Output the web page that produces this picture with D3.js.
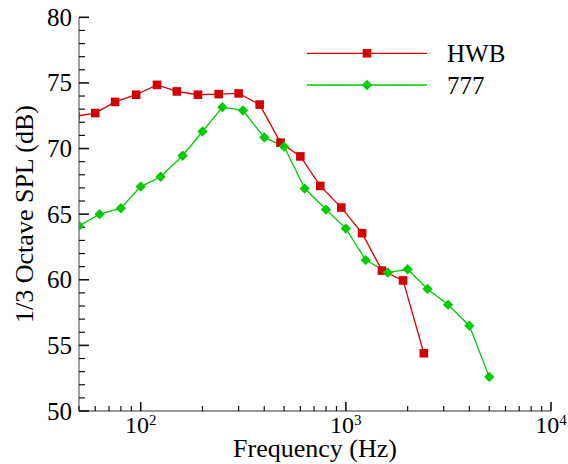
<!DOCTYPE html>
<html>
<head>
<meta charset="utf-8">
<script src="https://cdn.jsdelivr.net/npm/d3@7"></script>
<style>
  body { margin: 0; background: #fff; }
</style>
</head>
<body>
<svg id="chart" width="568" height="464"></svg>
<script>
// 1/3 octave band levels
const hwbFreq = [48, 60, 75, 95, 120, 150, 190, 240, 300, 380, 480, 600, 750, 950, 1200, 1500, 1900, 2400];
const hwbSpl  = [72.45, 72.7, 73.55, 74.1, 74.85, 74.35, 74.1, 74.15, 74.2, 73.35, 70.45, 69.4, 67.15, 65.5, 63.55, 60.7, 59.95, 54.4];

const b777Freq = [50, 63, 80, 100, 125, 160, 200, 250, 315, 400, 500, 630, 800, 1000, 1250, 1600, 2000, 2500, 3150, 4000, 5000];
const b777Spl  = [64.1, 65.0, 65.45, 67.1, 67.85, 69.45, 71.3, 73.15, 72.9, 70.85, 70.15, 66.95, 65.35, 63.9, 61.5, 60.55, 60.8, 59.3, 58.1, 56.5, 52.6];

const seriesNames = ["HWB", "777"];
const yTicks = [50, 55, 60, 65, 70, 75, 80];
const xMajor = [100, 1000, 10000];

const serif = "Liberation Serif";

const svg = d3.select("#chart");
const mLeft = 79, mRight = 551, mTop = 17.3, mBottom = 411;

const x = d3.scaleLog().domain([50, 10000]).range([mLeft, mRight]);
const y = d3.scaleLinear().domain([50, 80]).range([mBottom, mTop]);

const red = "#d20000", green = "#00cc00";

svg.append("defs").append("clipPath").attr("id", "plotclip")
  .append("rect").attr("x", mLeft).attr("y", mTop - 10)
  .attr("width", mRight - mLeft).attr("height", mBottom - mTop + 20);

// axes: spine gray, ticks inward
const axisG = svg.append("g");
axisG.append("line").attr("x1", mLeft).attr("x2", mLeft).attr("y1", mTop).attr("y2", mBottom)
  .attr("stroke", "#777").attr("stroke-width", 1.4);
axisG.append("line").attr("x1", mLeft).attr("x2", mRight).attr("y1", mBottom).attr("y2", mBottom)
  .attr("stroke", "#777").attr("stroke-width", 1.4);

// y ticks
d3.range(50, 81, 1).forEach(v => {
  let major = v % 5 === 0;
  axisG.append("line")
    .attr("x1", mLeft).attr("x2", mLeft + (major ? 10 : 6))
    .attr("y1", y(v)).attr("y2", y(v))
    .attr("stroke", "#111").attr("stroke-width", major ? 1.6 : 1.2);
});
yTicks.forEach(v => {
  axisG.append("text")
    .attr("x", mLeft - 7).attr("y", y(v) + 8.5)
    .attr("text-anchor", "end")
    .attr("font-family", serif)
    .attr("font-size", 25)
    .text(v);
});

// x ticks (log)
let minors = [];
[10, 100, 1000].forEach(dec => {
  for (let k = 2; k <= 9; k++) {
    let f = dec * k;
    if (f >= 50 && f < 10000) minors.push(f);
  }
});
minors.forEach(f => {
  axisG.append("line")
    .attr("x1", x(f)).attr("x2", x(f))
    .attr("y1", mBottom).attr("y2", mBottom - 5)
    .attr("stroke", "#111").attr("stroke-width", 1.2);
});
xMajor.forEach(f => {
  axisG.append("line")
    .attr("x1", x(f)).attr("x2", x(f))
    .attr("y1", mBottom).attr("y2", mBottom - 9)
    .attr("stroke", "#111").attr("stroke-width", 1.6);
  let t = axisG.append("text")
    .attr("x", x(f)).attr("y", mBottom + 22)
    .attr("text-anchor", "middle")
    .attr("font-family", serif)
    .attr("font-size", 24);
  t.append("tspan").text("10");
  t.append("tspan").attr("dy", -8).attr("font-size", 15).text(Math.round(Math.log10(f)));
});

// axis titles
svg.append("text")
  .attr("x", 315).attr("y", 457)
  .attr("text-anchor", "middle")
  .attr("font-family", serif)
  .attr("font-size", 26)
  .text("Frequency (Hz)");

svg.append("text")
  .attr("transform", "translate(33,214) rotate(-90)")
  .attr("text-anchor", "middle")
  .attr("font-family", serif)
  .attr("font-size", 26)
  .text("1/3 Octave SPL (dB)");

// series
const line = d3.line().x(d => x(d[0])).y(d => y(d[1]));
const hwb = hwbFreq.map((f, i) => [f, hwbSpl[i]]);
const b777 = b777Freq.map((f, i) => [f, b777Spl[i]]);

const plot = svg.append("g").attr("clip-path", "url(#plotclip)");

plot.append("path").datum(hwb).attr("d", line)
  .attr("fill", "none").attr("stroke", red).attr("stroke-width", 1.3);
plot.append("path").datum(b777).attr("d", line)
  .attr("fill", "none").attr("stroke", green).attr("stroke-width", 1.3);

const sq = 8.6;
plot.selectAll("rect.hwb").data(hwb).enter().append("rect")
  .attr("class", "hwb")
  .attr("x", d => x(d[0]) - sq / 2).attr("y", d => y(d[1]) - sq / 2)
  .attr("width", sq).attr("height", sq)
  .attr("fill", red);

const diamond = d3.symbol().type(d3.symbolDiamond2).size(68);
plot.selectAll("path.b777").data(b777).enter().append("path")
  .attr("class", "b777")
  .attr("d", diamond)
  .attr("transform", d => `translate(${x(d[0])},${y(d[1])})`)
  .attr("fill", green);

// legend
const legend = svg.append("g");
const legY = [53.3, 85];
const legColors = [red, green];
seriesNames.forEach((name, i) => {
  legend.append("line")
    .attr("x1", 307).attr("x2", 427).attr("y1", legY[i]).attr("y2", legY[i])
    .attr("stroke", legColors[i]).attr("stroke-width", 1.3);
  if (i === 0) {
    legend.append("rect")
      .attr("x", 367 - sq / 2).attr("y", legY[i] - sq / 2)
      .attr("width", sq).attr("height", sq).attr("fill", red);
  } else {
    legend.append("path").attr("d", diamond)
      .attr("transform", `translate(367,${legY[i]})`)
      .attr("fill", green);
  }
  legend.append("text")
    .attr("x", 447).attr("y", legY[i] + 8.5)
    .attr("font-family", serif)
    .attr("font-size", 25)
    .text(name);
});
</script>
</body>
</html>
